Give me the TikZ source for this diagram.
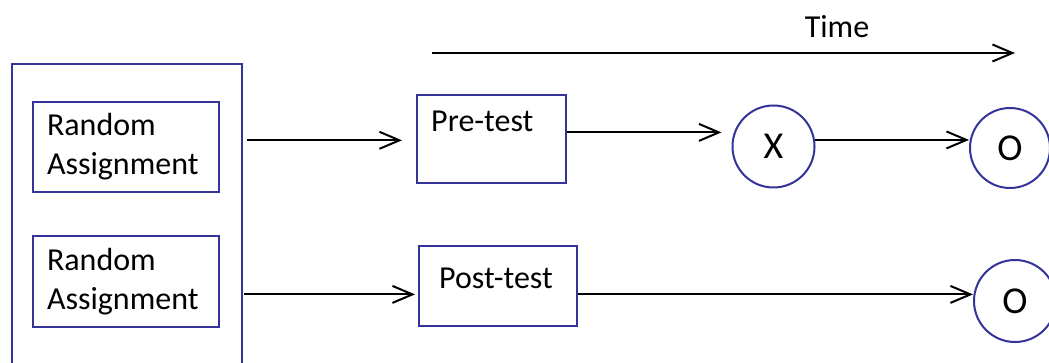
\documentclass[tikz,border=0pt]{standalone}
\usepackage{fontspec}
\setmainfont{Carlito}
\usetikzlibrary{arrows.meta}
\definecolor{boxblue}{RGB}{51,51,153}

\begin{document}
\begin{tikzpicture}[x=1pt,y=-1pt,
	every node/.style={font=\fontsize{32}{39}\selectfont},
	frame/.style={draw=boxblue,line width=2pt},
	assign/.style={frame,minimum width=186pt,minimum height=90pt,text width=158pt,align=left,inner sep=0pt},
	testbox/.style={frame,inner sep=0pt},
	event/.style={frame,circle,minimum size=82pt,inner sep=0pt,font=\fontsize{38}{44}\selectfont},
	tag/.style={anchor=north west,inner sep=0pt},
	flow/.style={-{Straight Barb[length=20pt,width=17pt]},line width=2pt}]
	\path[use as bounding box,clip] (0,0) rectangle (1049,363);

	% time axis
	\node (time) at (837,27) {Time};
	\coordinate (t0) at (432,53);
	\coordinate (t1) at (1015,53);
	\draw[flow] (t0) -- (t1);

	% groups
	\node[frame,minimum width=230pt,minimum height=330pt,anchor=north west] (outer) at (11,63) {};
	\node[assign] (ra1) at (126,147) {Random\\Assignment};
	\node[assign] (ra2) at (126,281.5) {Random\\Assignment};

	% first row
	\node[testbox,minimum width=149pt,minimum height=88pt,
		label={[tag,xshift=15pt,yshift=-17pt]north west:Pre-test}] (pre) at (491.5,139) {};
	\node[event] (x) at (773.5,146.5) {X};
	\node[event,minimum size=80pt] (o1) at (1010,148) {O};

	% second row
	\node[testbox,minimum width=158pt,minimum height=80pt,
		label={[tag,xshift=21pt,yshift=-23pt]north west:Post-test}] (post) at (498,286) {};
	\node[event] (o2) at (1015,301) {O};

	\draw[flow,shorten <=4pt,shorten >=14pt] (pre.181 -| outer.east) -- (pre.181);
	\draw[flow,shorten >=10pt] (pre.5) -- (pre.5 -| x.west);
	\draw[flow] (x.9) -- (x.9 -| o1.west);
	\draw[flow,shorten <=1pt,shorten >=3pt] (post.186 -| outer.east) -- (post.186);
	\draw[flow] (post.-6) -- (post.-6 -| o2.west);

\end{tikzpicture}
\end{document}
